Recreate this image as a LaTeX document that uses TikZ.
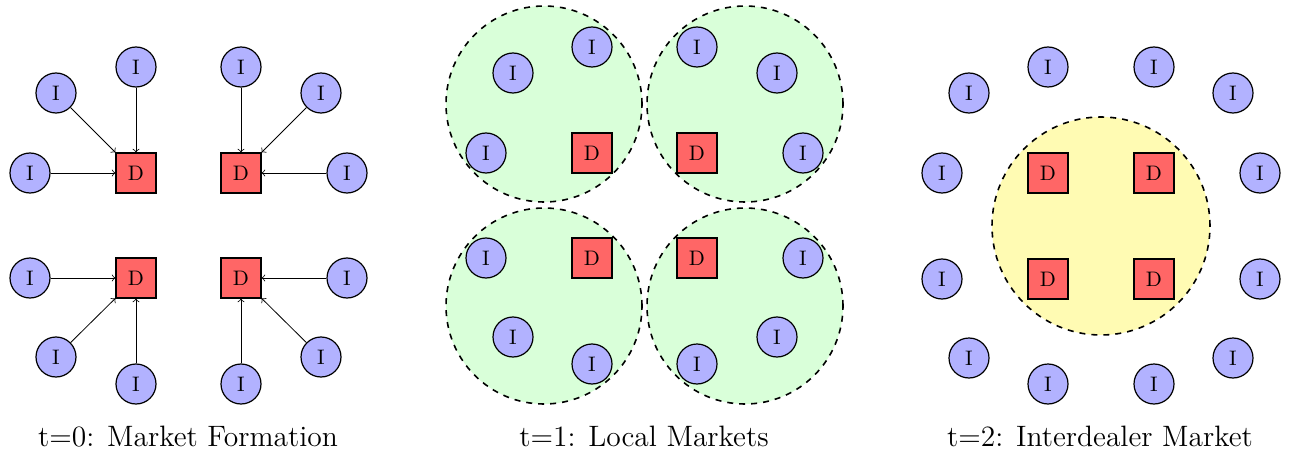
\documentclass[tikz,border=0pt]{standalone}
\begin{document}
\begin{tikzpicture}[x=0.5pt,y=-0.5pt,
  inv/.style={circle, draw, fill=blue!30, minimum size=20pt, inner sep=0pt, semithick, font=\fontsize{10.5pt}{12pt}\selectfont},
  dlr/.style={rectangle, draw, fill=red!60, minimum size=20pt, inner sep=0pt, semithick, font=\fontsize{10.5pt}{12pt}\selectfont},
  link/.style={->, thin},
  mkt/.style={draw, dashed, thick},
  captext/.style={anchor=base, font=\fontsize{14.75pt}{18pt}\selectfont}]
\useasboundingbox (0,0) rectangle (1291,460);
% ---------- t=0 ----------
\node[dlr] (d1) at (136,173) {D};
\node[dlr] (d2) at (241,173) {D};
\node[dlr] (d3) at (136,278) {D};
\node[dlr] (d4) at (241,278) {D};
\node[inv] (a1) at (136,67) {I};
\node[inv] (a2) at (56,93) {I};
\node[inv] (a3) at (30,173) {I};
\node[inv] (b1) at (241,67) {I};
\node[inv] (b2) at (321,93) {I};
\node[inv] (b3) at (347,173) {I};
\node[inv] (c1) at (30,278) {I};
\node[inv] (c2) at (56,357) {I};
\node[inv] (c3) at (136,384) {I};
\node[inv] (e1) at (347,278) {I};
\node[inv] (e2) at (321,357) {I};
\node[inv] (e3) at (241,384) {I};
\foreach \s in {a1,a2,a3} \draw[link] (\s) -- (d1);
\foreach \s in {b1,b2,b3} \draw[link] (\s) -- (d2);
\foreach \s in {c1,c2,c3} \draw[link] (\s) -- (d3);
\foreach \s in {e1,e2,e3} \draw[link] (\s) -- (d4);
\node[captext] (cap0) at (188,446) {t=0: Market Formation};
% ---------- t=1 ----------
\fill[green!15] (544,104) circle[radius=49pt];
\fill[green!15] (745,104) circle[radius=49pt];
\fill[green!15] (544,306) circle[radius=49pt];
\fill[green!15] (745,306) circle[radius=49pt];
\node[inv] (p1) at (592,47) {I};
\node[inv] (p2) at (513,73) {I};
\node[inv] (p3) at (486,153) {I};
\node[dlr] (pd) at (592,153) {D};
\node[inv] (q1) at (697,47) {I};
\node[inv] (q2) at (777,73) {I};
\node[inv] (q3) at (803,153) {I};
\node[dlr] (qd) at (697,153) {D};
\node[inv] (r1) at (486,258) {I};
\node[dlr] (rd) at (592,258) {D};
\node[inv] (r2) at (513,337) {I};
\node[inv] (r3) at (592,364) {I};
\node[dlr] (sd) at (697,258) {D};
\node[inv] (s1) at (803,258) {I};
\node[inv] (s2) at (777,337) {I};
\node[inv] (s3) at (697,364) {I};
\draw[mkt] (544,104) circle[radius=49pt];
\draw[mkt] (745,104) circle[radius=49pt];
\draw[mkt] (544,306) circle[radius=49pt];
\draw[mkt] (745,306) circle[radius=49pt];
\node[captext] (cap1) at (644,446) {t=1: Local Markets};
% ---------- t=2 ----------
\draw[mkt, fill=yellow!30] (1101,226) circle[radius=54.5pt];
\node[dlr] (x1) at (1048,173) {D};
\node[dlr] (x2) at (1154,173) {D};
\node[dlr] (x3) at (1048,279) {D};
\node[dlr] (x4) at (1154,279) {D};
\node[inv] (y1) at (942,173) {I};
\node[inv] (y2) at (942,279) {I};
\node[inv] (y3) at (1260,173) {I};
\node[inv] (y4) at (1260,279) {I};
\node[inv] (y5) at (969,93) {I};
\node[inv] (y6) at (1048,67) {I};
\node[inv] (y7) at (1154,67) {I};
\node[inv] (y8) at (1233,93) {I};
\node[inv] (y9) at (969,358) {I};
\node[inv] (y10) at (1048,384) {I};
\node[inv] (y11) at (1154,384) {I};
\node[inv] (y12) at (1233,358) {I};
\node[captext] (cap2) at (1100,446) {t=2: Interdealer Market};
\end{tikzpicture}
\end{document}
